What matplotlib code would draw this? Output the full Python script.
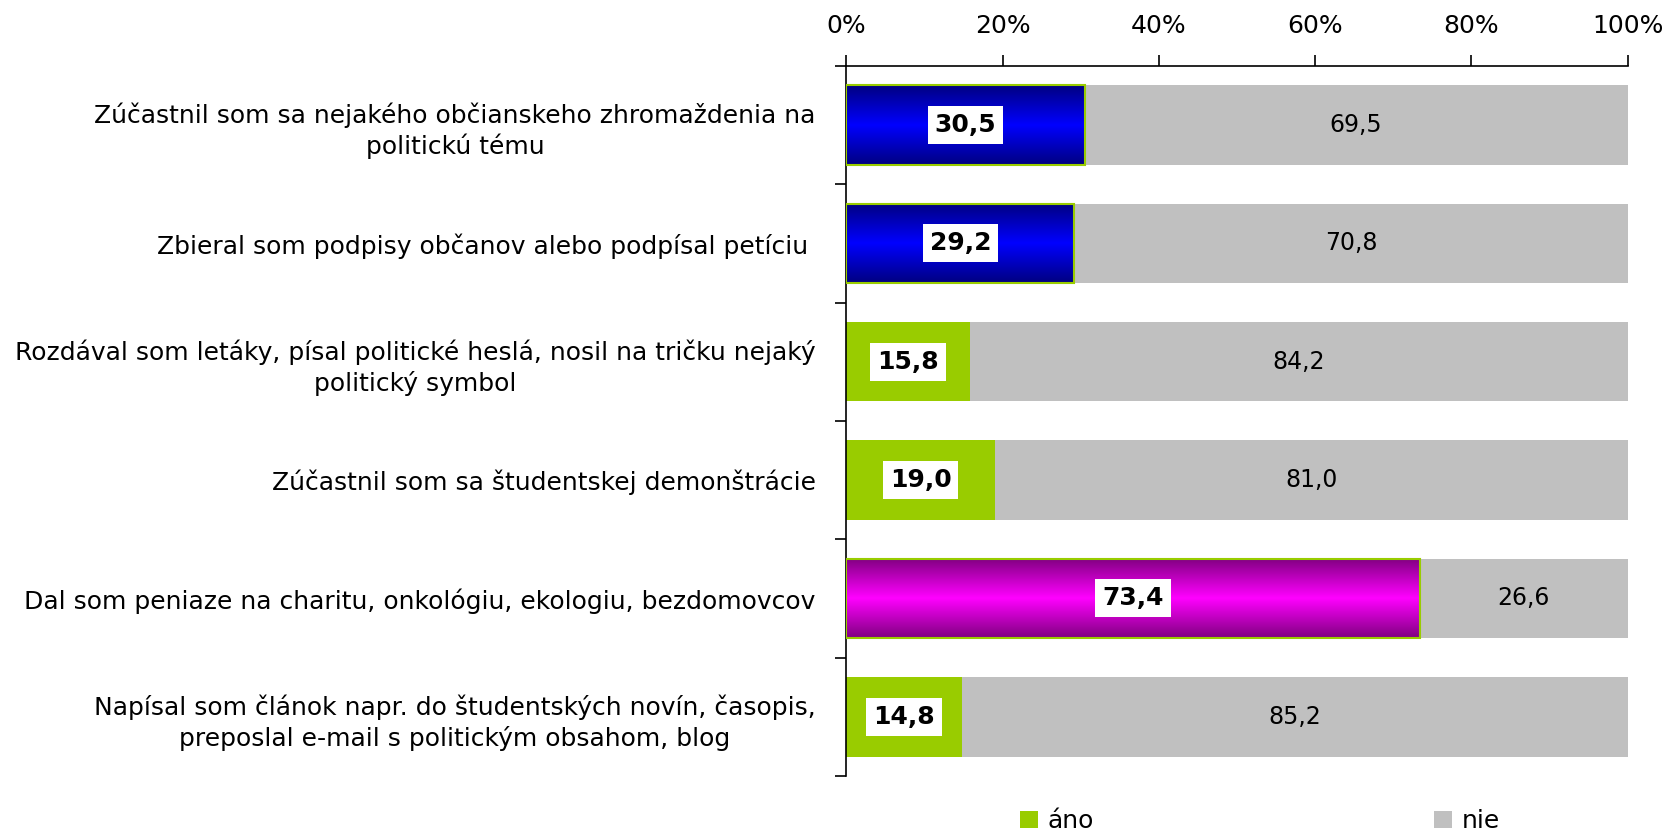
import numpy as np
import matplotlib
matplotlib.use("Agg")
import matplotlib.pyplot as plt
from matplotlib.colors import LinearSegmentedColormap
from matplotlib.patches import Patch

# data
categories = [
    "Zúčastnil som sa nejakého občianskeho zhromaždenia na\npolitickú tému",
    "Zbieral som podpisy občanov alebo podpísal petíciu ",
    "Rozdával som letáky, písal politické heslá, nosil na tričku nejaký\npolitický symbol",
    "Zúčastnil som sa študentskej demonštrácie",
    "Dal som peniaze na charitu, onkológiu, ekologiu, bezdomovcov",
    "Napísal som článok napr. do študentských novín, časopis,\npreposlal e-mail s politickým obsahom, blog",
]
ano = [30.5, 29.2, 15.8, 19.0, 73.4, 14.8]
nie = [69.5, 70.8, 84.2, 81.0, 26.6, 85.2]
# fill style per bar: gradient name or flat
styles = ["blue", "blue", "flat", "flat", "magenta", "flat"]

GREEN = "#99CC00"
GRAY = "#C0C0C0"
gradients = {
    "blue": LinearSegmentedColormap.from_list("bl", ["#000080", "#0000FF", "#000080"]),
    "magenta": LinearSegmentedColormap.from_list("mg", ["#800080", "#FF00FF", "#800080"]),
}

plt.rcParams['font.family'] = ['DejaVu Sans']
FS = 18

fig = plt.figure(figsize=(16.66, 8.34), dpi=100)
ax = fig.add_axes([0.508, 0.0695, 0.469, 0.8515])

y = np.arange(len(categories))
h = 0.67
bars = ax.barh(y, ano, height=h, color=GREEN, zorder=2)
ax.barh(y, nie, left=ano, height=h, color=GRAY, zorder=2)

# vertical gradient fill for the highlighted bars
grad = np.linspace(0, 1, 256).reshape(-1, 1)
for bar, st in zip(bars, styles):
    if st == "flat":
        continue
    x0, y0, w, hh = bar.get_x(), bar.get_y(), bar.get_width(), bar.get_height()
    im = ax.imshow(grad, cmap=gradients[st], aspect="auto",
                   extent=(x0, x0 + w, y0 + hh, y0), zorder=2.5, interpolation="bilinear")
    im.set_clip_path(bar)
    ax.add_patch(plt.Rectangle((x0, y0), w, hh, fill=False, edgecolor=GREEN,
                               linewidth=1.5, zorder=3))

for i in range(len(categories)):
    ax.text(ano[i] / 2, y[i], f"{ano[i]:.1f}".replace(".", ","), ha="center", va="center",
            fontsize=FS, fontweight="bold", zorder=4,
            bbox=dict(facecolor="white", edgecolor="none", pad=5))
    ax.text(ano[i] + nie[i] / 2, y[i], f"{nie[i]:.1f}".replace(".", ","), ha="center",
            va="center", fontsize=FS - 1, zorder=4)

ax.set_xlim(0, 100)
ax.set_ylim(len(categories) - 0.5, -0.5)
ax.xaxis.tick_top()
ax.set_xticks(np.arange(0, 101, 20))
ax.set_xticklabels([f"{v}%" for v in range(0, 101, 20)], fontsize=FS)
ax.tick_params(axis="x", direction="out", length=8, width=1.2, pad=12)

ax.set_yticks(y)
ax.set_yticklabels(categories, fontsize=FS, linespacing=1.3, multialignment="center")
ax.set_yticks(np.arange(-0.5, len(categories)), minor=True)
ax.tick_params(axis="y", which="major", length=0, pad=22)
ax.tick_params(axis="y", which="minor", direction="out", length=8, width=1.2)

for s in ["right", "bottom"]:
    ax.spines[s].set_visible(False)
for s in ["left", "top"]:
    ax.spines[s].set_linewidth(1.2)

handles = [Patch(facecolor=GREEN, label="áno"), Patch(facecolor=GRAY, label="nie")]
fig.legend(handles=handles, loc="center", bbox_to_anchor=(1260 / 1666, 1 - 821 / 834),
           ncol=2, frameon=False, fontsize=FS, handlelength=0.7, handleheight=0.7,
           handletextpad=0.4, columnspacing=13.6)

fig.savefig("out.png", dpi=100)
